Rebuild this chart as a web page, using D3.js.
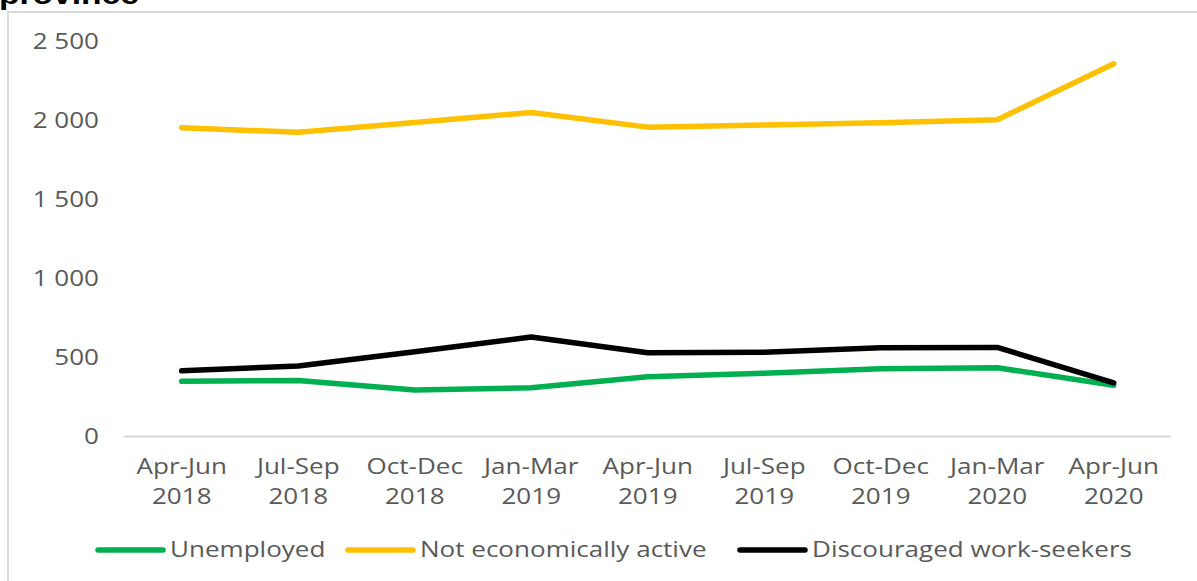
<!DOCTYPE html>
<html>
<head>
<meta charset="utf-8">
<script src="https://cdn.jsdelivr.net/npm/d3@7/dist/d3.min.js"></script>
<style>
  html, body { margin: 0; padding: 0; background: #fff; }
  svg { display: block; }
</style>
</head>
<body>
<svg id="chart" width="1197" height="581"></svg>
<script>
// Quarterly labour-market figures (thousands)
const categories = ["Apr-Jun 2018", "Jul-Sep 2018", "Oct-Dec 2018", "Jan-Mar 2019", "Apr-Jun 2019",
                    "Jul-Sep 2019", "Oct-Dec 2019", "Jan-Mar 2020", "Apr-Jun 2020"];
const unemployed = [349, 355, 294, 308, 378, 400, 429, 435, 324];
const notEconomicallyActive = [1954, 1925, 1988, 2051, 1958, 1971, 1986, 2005, 2359];
const discouraged = [416, 446, 536, 630, 530, 534, 561, 564, 340];
const yTicks = [0, 500, 1000, 1500, 2000, 2500];

const seriesNames = ["Unemployed", "Not economically active", "Discouraged work-seekers"];
const seriesColors = ["#00B050", "#FFC000", "#000000"];
const series = [unemployed, notEconomicallyActive, discouraged];

const svg = d3.select("#chart");
const textColor = "#595959";
const font = "'Open Sans', sans-serif";
const sx = 1.24; // horizontal stretch of the text

// Frame of the chart area
svg.append("path")
  .attr("d", "M8,581 L8,12 L1197,12")
  .attr("fill", "none")
  .attr("stroke", "#D9D9D9")
  .attr("stroke-width", 2);

// Heading above the frame, running off the top edge
svg.append("text")
  .attr("transform", "translate(-1,4) scale(1.2,1)")
  .attr("font-family", "'Liberation Sans', Arial, sans-serif")
  .attr("font-weight", "bold")
  .attr("font-size", 28)
  .attr("fill", "#000")
  .text("province");

const x = d3.scaleBand().domain(categories).range([123.5, 1172]).padding(0);
const y = d3.scaleLinear().domain([0, 2500]).range([436.5, 41.5]);
const cx = c => x(c) + x.bandwidth() / 2;

// Y axis labels, thousands separated by a space
const yAxis = d3.axisLeft(y).tickValues(yTicks).tickSize(0).tickPadding(0)
  .tickFormat(v => d3.format(",")(v).replace(/,/g, " "));
const gy = svg.append("g").attr("transform", "translate(99,0)").call(yAxis);
gy.select(".domain").remove();
gy.selectAll("text")
  .attr("x", 0)
  .attr("transform", `scale(${sx},1)`)
  .attr("font-family", font)
  .attr("font-size", 21)
  .attr("fill", textColor)
  .attr("text-anchor", "end")
  .attr("dy", "0.35em");

// X axis with baseline and two-line quarter labels
const xAxis = d3.axisBottom(x).tickSize(0).tickFormat(() => "");
const gx = svg.append("g").attr("transform", `translate(0,${y(0)})`).call(xAxis);
gx.select(".domain")
  .attr("d", "M123.5,0H1171")
  .attr("stroke", "#D9D9D9")
  .attr("stroke-width", 2);
gx.selectAll(".tick").each(function (d) {
  const parts = d.split(" ");
  const t = d3.select(this).select("text")
    .attr("y", 0)
    .attr("dy", 0)
    .attr("transform", `scale(${sx},1)`)
    .attr("font-family", font)
    .attr("font-size", 21)
    .attr("fill", textColor)
    .attr("text-anchor", "middle")
    .text(null);
  t.append("tspan").attr("x", 0).attr("y", 37.5).text(parts[0]);
  t.append("tspan").attr("x", 0).attr("y", 67.5).text(parts[1]);
});

// Lines
const line = d3.line().x((d, i) => cx(categories[i])).y(d => y(d));
series.forEach((vals, i) => {
  svg.append("path")
    .datum(vals)
    .attr("d", line)
    .attr("fill", "none")
    .attr("stroke", seriesColors[i])
    .attr("stroke-width", 5.5)
    .attr("stroke-linecap", "round")
    .attr("stroke-linejoin", "round");
});

// Legend
const legendX = [98, 348, 740];
const legendY = 550;
seriesNames.forEach((name, i) => {
  const g = svg.append("g").attr("transform", `translate(${legendX[i]},${legendY})`);
  g.append("line")
    .attr("x1", 0).attr("x2", 65).attr("y1", 0).attr("y2", 0)
    .attr("stroke", seriesColors[i])
    .attr("stroke-width", 5.5)
    .attr("stroke-linecap", "round");
  g.append("text")
    .attr("transform", `translate(72,0) scale(${sx},1)`)
    .attr("dy", "0.35em")
    .attr("font-family", font)
    .attr("font-size", 21)
    .attr("fill", textColor)
    .text(name);
});
</script>
</body>
</html>
